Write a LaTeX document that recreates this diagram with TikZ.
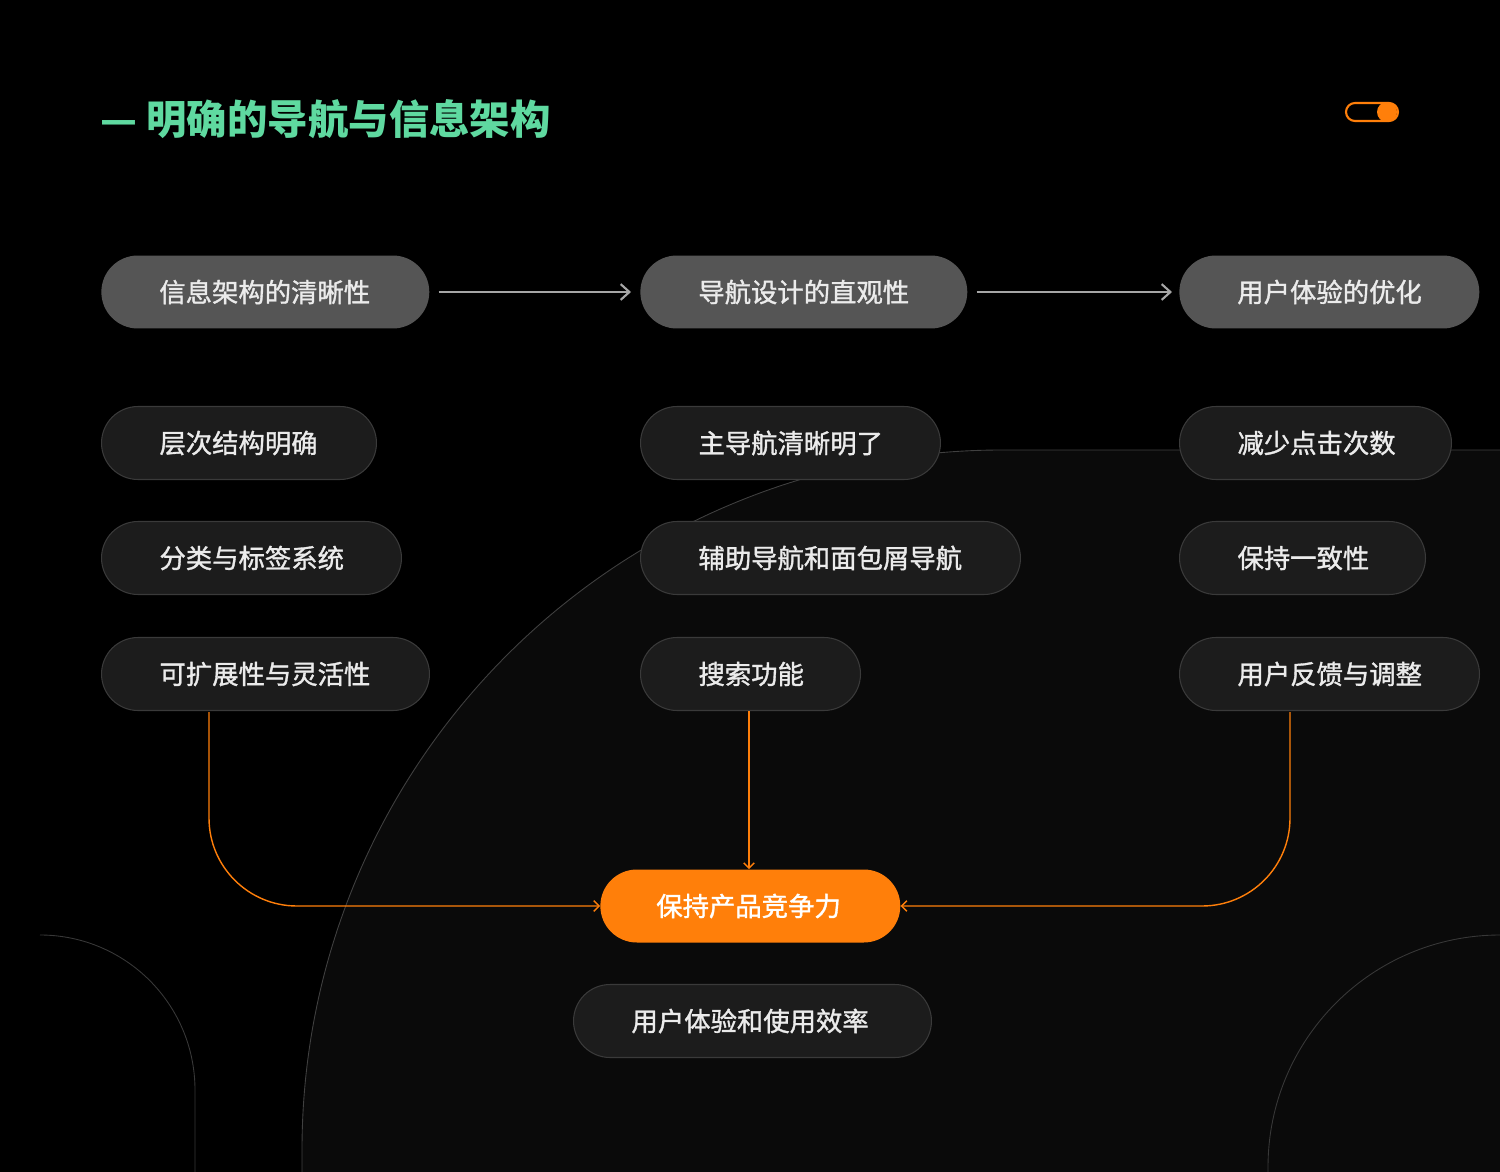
\documentclass[tikz,border=0pt]{standalone}
\usepackage{fontspec}
\setmainfont{Noto Sans CJK SC}
\newfontfamily\pillfont{Noto Sans CJK SC}[FakeBold=1.3]
\usetikzlibrary{positioning, arrows.meta}
\definecolor{bgc}{HTML}{000000}
\definecolor{pillgray}{HTML}{555555}
\definecolor{pilldark}{HTML}{1C1C1C}
\definecolor{pillline}{HTML}{3A3A3A}
\definecolor{accent}{HTML}{FF7F0A}
\definecolor{mint}{HTML}{5FD9A0}

\begin{document}
\begin{tikzpicture}[
    x=0.02cm, y=-0.02cm,
    pill/.style={rectangle, rounded corners=0.73cm, minimum height=1.46cm,
        anchor=west, align=left, inner xsep=1.16cm, font=\pillfont\fontsize{15}{18}\selectfont,
        text=white!92!black},
    head/.style={pill, fill=pillgray},
    item/.style={pill, fill=pilldark, draw=pillline, line width=0.6pt},
    goal/.style={pill, fill=accent, text=white, inner xsep=1.12cm},
    flow/.style={-{Straight Barb[length=5pt,width=9pt]}, draw=gray!70, line width=1.2pt},
    link/.style={-{Straight Barb[length=3pt,width=6pt]}, draw=accent, line width=0.8pt}
]
    % backdrop
    \useasboundingbox (0,0) rectangle (1500,1172);
    \fill[bgc] (0,0) rectangle (1500,1172);
    \fill[black!96!white] (302,1172) -- (302,1150) arc[start angle=180, end angle=270, radius=700] -- (1500,450) -- (1500,1172) -- cycle;
    \draw[white!25!black, line width=0.5pt] (302,1172) -- (302,1150) arc[start angle=180, end angle=270, radius=700] -- (1500,450);
    \draw[white!22!black, line width=0.5pt] (40,935) arc[start angle=270, end angle=360, radius=155] -- (195,1172);
    \draw[white!22!black, line width=0.5pt] (1500,935) arc[start angle=270, end angle=180, radius=232] -- (1268,1172);

    % title and toggle
    \node[anchor=west, text=mint, font=\fontsize{23}{26}\selectfont\bfseries, inner sep=0] (title) at (100,119) {— 明确的导航与信息架构};
    \draw[accent, line width=1.2pt, rounded corners=0.18cm] (1346,103) rectangle (1398,121);
    \fill[accent] (1387,112) circle[radius=10];

    % header row
    \node[head, text width=4.24cm] (info) at (101,292) {信息架构的清晰性};
    \node[head, text width=4.22cm] (nav) at (640,292) {导航设计的直观性};
    \node[head, text width=3.68cm] (ux) at (1179,292) {用户体验的优化};
    \draw[flow] (info.east) ++(9,0) coordinate (a1) (a1) -- (nav.west -| 631,0);
    \draw[flow] (nav.east) ++(9,0) coordinate (a2) (a2) -- (ux.west -| 1172,0);

    % column items
    \node[item, text width=3.18cm] (layer) at (101,443) {层次结构明确};
    \node[item, text width=3.68cm] (tags) at (101,558) {分类与标签系统};
    \node[item, text width=4.24cm] (scale) at (101,674) {可扩展性与灵活性};
    \node[item, text width=3.68cm] (mainnav) at (640,443) {主导航清晰明了};
    \node[item, text width=5.28cm] (subnav) at (640,558) {辅助导航和面包屑导航};
    \node[item, text width=2.08cm] (search) at (640,674) {搜索功能};
    \node[item, text width=3.12cm] (clicks) at (1179,443) {减少点击次数};
    \node[item, text width=2.60cm] (consist) at (1179,558) {保持一致性};
    \node[item, text width=3.68cm] (feedback) at (1179,674) {用户反馈与调整};

    % goal
    \node[goal, text width=3.76cm] (keep) at (600,906) {保持产品竞争力};
    \node[item, text width=4.84cm] (eff) at (573,1021) {用户体验和使用效率};

    \draw[link] (209,712) -- (209,818) arc[start angle=180, end angle=90, radius=88] -- (keep.west);
    \draw[link] (search.south -| 749,0) -- (keep.north -| 749,0);
    \draw[link] (1290,712) -- (1290,818) arc[start angle=0, end angle=90, radius=88] -- (keep.east);
\end{tikzpicture}
\end{document}
